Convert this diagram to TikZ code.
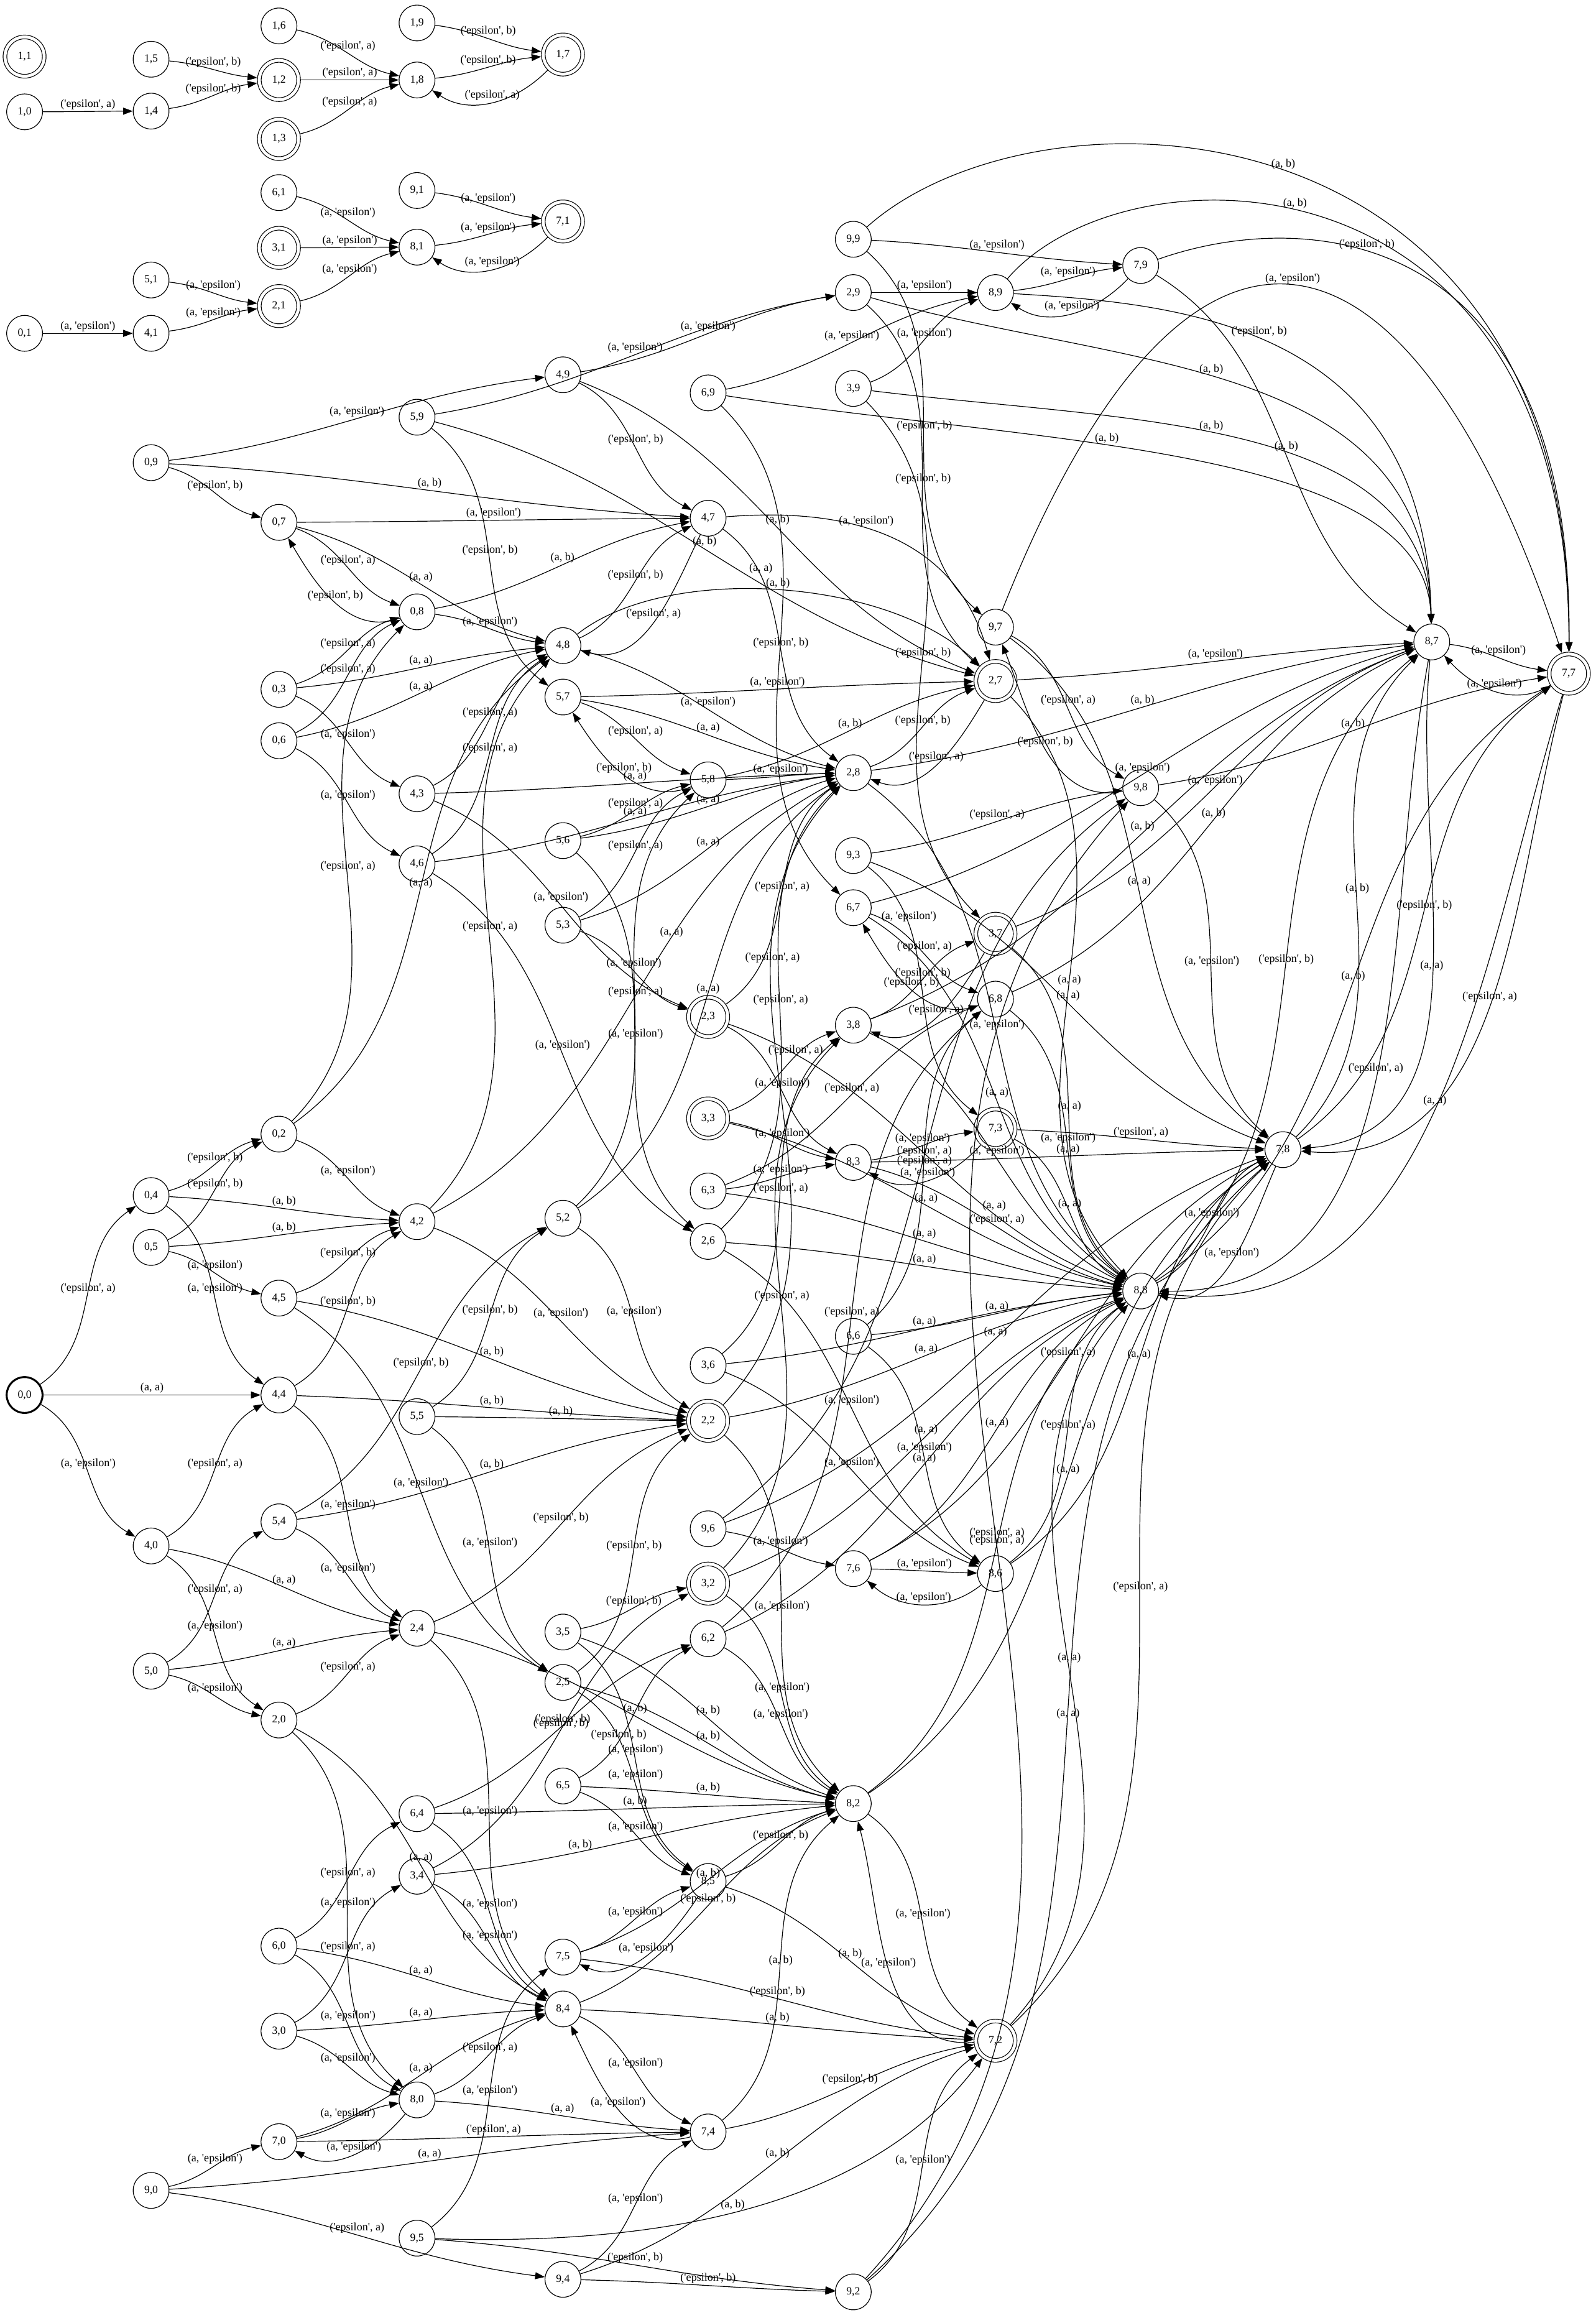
\documentclass[tikz,border=0pt]{standalone}
\usepackage{fontspec}
\newfontfamily\lfont{Liberation Serif}
\usetikzlibrary{arrows.meta}
\tikzset{
  nst/.style={circle, draw, line width=0.5pt, minimum size=24.2pt, inner sep=0pt, font=\lfont\fontsize{7.4}{8}\selectfont},
  nac/.style={nst, double, double distance=2pt, minimum size=26.5pt, outer sep=1.5pt},
  nbo/.style={nst, line width=1.3pt, outer sep=0.65pt},
  earrow/.style={line width=0.5pt, -{Triangle[length=6.5pt,width=4.7pt]}},
  elab/.style={font=\lfont\fontsize{7.6}{8}\selectfont, inner sep=1pt},
}
% per-edge routing: src tgt c1x c1y c2x c2y labelpos labelanchor
\newcommand\ov[8]{%
  \expandafter\def\csname ova@#1@#2\endcsname{#3}%
  \expandafter\def\csname ovb@#1@#2\endcsname{#4}%
  \expandafter\def\csname ovc@#1@#2\endcsname{#5}%
  \expandafter\def\csname ovd@#1@#2\endcsname{#6}%
  \expandafter\def\csname ovp@#1@#2\endcsname{#7}%
  \expandafter\def\csname ovq@#1@#2\endcsname{#8}}
% label position only: src tgt pos
\newcommand\lov[3]{\expandafter\def\csname lop@#1@#2\endcsname{#3}}
\ov{99}{77}{700}{50}{1062}{60}{0.5}{south}
\ov{89}{77}{760}{95}{1060}{95}{0.45}{south}
\ov{79}{77}{880}{140}{1062}{150}{0.4}{south}
\ov{97}{77}{800}{100}{950}{130}{0.5}{south}
\ov{29}{87}{760}{250}{962}{240}{0.45}{south}
\ov{39}{87}{760}{285}{962}{280}{0.45}{south}
\ov{69}{87}{700}{300}{962}{300}{0.4}{south}
\ov{89}{87}{800}{205}{962}{220}{0.45}{south}
\ov{95}{72}{420}{1515}{580}{1500}{0.5}{south}
\ov{48}{27}{450}{380}{600}{390}{0.5}{south}
\ov{47}{27}{600}{340}{650}{380}{0.35}{south}
\lov{42}{28}{0.62}
\lov{65}{62}{0.3}
\lov{93}{73}{0.25}
\lov{23}{88}{0.7}
\lov{33}{38}{0.65}
\lov{47}{28}{0.22}
\lov{22}{28}{0.7}
\lov{34}{82}{0.35}
\newcommand\addedge[3]{%
  \ifcsname lop@#1@#2\endcsname
    \edef\eLp{\csname lop@#1@#2\endcsname}%
  \else
    \def\eLp{0.5}%
  \fi
  \ifcsname ova@#1@#2\endcsname
    \edef\eAx{\csname ova@#1@#2\endcsname}\edef\eAy{\csname ovb@#1@#2\endcsname}%
    \edef\eBx{\csname ovc@#1@#2\endcsname}\edef\eBy{\csname ovd@#1@#2\endcsname}%
    \edef\eLp{\csname ovp@#1@#2\endcsname}\edef\eLa{\csname ovq@#1@#2\endcsname}%
    \draw[earrow] (n#1) .. controls (\eAx,\eAy) and (\eBx,\eBy) .. node[elab,pos=\eLp,anchor=\eLa]{#3} (n#2);
  \else
  \pgfmathsetmacro\eDx{\csname px#2\endcsname-\csname px#1\endcsname}%
  \pgfmathsetmacro\eDy{\csname py#1\endcsname-\csname py#2\endcsname}%
  \pgfmathsetmacro\eTh{atan2(\eDy,\eDx)}%
  \ifdim\eDx pt>0pt
    \pgfmathsetmacro\eAo{0.6*\eTh}%
    \pgfmathsetmacro\eAi{180+0.6*\eTh}%
    \draw[earrow] (n#1) to[out=\eAo,in=\eAi] node[elab,pos=\eLp,anchor=south]{#3} (n#2);
  \else
    \pgfmathsetmacro\ePh{\eTh>0 ? \eTh-180 : \eTh+180}%
    \pgfmathsetmacro\eAo{220+0.6*\ePh}%
    \pgfmathsetmacro\eAi{0.6*\ePh-40}%
    \draw[earrow] (n#1) to[out=\eAo,in=\eAi] node[elab,pos=\eLp,anchor=south]{#3} (n#2);
  \fi
  \fi}
\begin{document}
\begin{tikzpicture}[x=1pt,y=-1pt]
\fill[white] (0,0) rectangle (1077,1568);
\useasboundingbox (0,0) rectangle (1077,1568);
% normal states
\foreach \i/\j/\x/\y in {
 1/0/16.6/75.5, 0/1/16.6/225,
 1/5/102/40, 1/4/102/75, 5/1/102/189, 4/1/102/225, 0/9/102/312.3, 0/4/102/807,
 0/5/102/842, 4/0/102/1043.5, 5/0/102/1128, 9/0/102/1478.5,
 1/6/188.3/17.5, 6/1/188.3/130, 0/7/188.3/352.6, 0/3/188.3/465.3, 0/6/188.3/500,
 0/2/188.3/765.5, 4/5/188.3/876.2, 4/4/188.3/941.6, 5/4/188.3/1027.2, 2/0/188.3/1161,
 6/0/188.3/1313.6, 3/0/188.3/1371, 7/0/188.3/1445.6,
 1/9/281.5/15.5, 1/8/281.5/54, 9/1/281.5/128.6, 8/1/281.5/166.8, 5/9/281.5/281.6,
 0/8/281.5/413, 4/3/281.5/535.8, 4/6/281.5/583.1, 4/2/281.5/824.6, 5/5/281.5/956.2,
 2/4/281.5/1099, 6/4/281.5/1224.2, 3/4/281.5/1266.4, 8/0/281.5/1417.4, 9/5/281.5/1510.7,
 4/9/380/253, 4/8/380/435.8, 5/7/380/470.5, 5/6/380/567.4, 5/3/380/624.5, 5/2/380/822.3,
 3/5/380/1101.6, 2/5/380/1135.6, 6/5/380/1205.5, 7/5/380/1321, 8/4/380/1356, 9/4/380/1538.5,
 6/9/478/265.2, 4/7/478/349.8, 5/8/478/526.4, 6/3/478/803.9, 2/6/478/837.9, 3/6/478/921.7,
 9/6/478/1031.9, 6/2/478/1106.1, 8/5/478/1270, 7/4/478/1439,
 9/9/576/161.5, 2/9/576/197.5, 3/9/576/262.2, 2/8/576/521.6, 9/3/576/577.5, 6/7/576/612.7,
 3/8/576/692, 8/3/576/784.6, 6/6/576/902, 7/6/576/1058.8, 8/2/576/1217.4, 9/2/576/1547,
 8/9/672/197.5, 9/7/672/423.3, 6/8/672/674.4, 8/6/672/1062.1,
 7/9/770/179.2, 9/8/770/531.7, 8/8/770/871.4,
 7/8/866/776, 8/7/966.5/433.3}{
  \node[nst] (n\i\j) at (\x,\y) {\i,\j};
  \expandafter\xdef\csname px\i\j\endcsname{\x}%
  \expandafter\xdef\csname py\i\j\endcsname{\y}%
}
% accepting states
\foreach \i/\j/\x/\y in {
 1/1/16.6/38.2, 1/2/188.3/54, 1/3/188.3/93.8, 3/1/188.3/167.3, 2/1/188.3/206.6,
 1/7/380/36.8, 7/1/380/149.5, 2/3/478/686.4, 3/3/478/754.9, 2/2/478/959, 3/2/478/1068.9,
 2/7/672/459.7, 3/7/672/630.3, 7/3/672/761.9, 7/2/672/1377.4, 7/7/1059/454.7}{
  \node[nac] (n\i\j) at (\x,\y) {\i,\j};
  \expandafter\xdef\csname px\i\j\endcsname{\x}%
  \expandafter\xdef\csname py\i\j\endcsname{\y}%
}
% initial state
\node[nbo] (n00) at (16.6,941.6) {0,0};
\expandafter\xdef\csname px00\endcsname{16.6}%
\expandafter\xdef\csname py00\endcsname{941.6}%
% product transitions
\foreach \i/\ti in {0/4,2/8,3/8,4/2,5/2,6/8,7/8,8/7,9/7}{
  \foreach \j/\tj/\lt in {0/4/a,2/8/a,3/8/a,4/2/b,5/2/b,6/8/a,7/8/a,8/7/b,9/7/b}{
    \addedge{\i\j}{\ti\j}{(a, 'epsilon')}
    \addedge{\i\j}{\i\tj}{('epsilon', \lt)}
    \addedge{\i\j}{\ti\tj}{(a, \lt)}
  }
}
\foreach \j/\tj/\lt in {0/4/a,2/8/a,3/8/a,4/2/b,5/2/b,6/8/a,7/8/a,8/7/b,9/7/b}{
  \addedge{1\j}{1\tj}{('epsilon', \lt)}
}
\foreach \i/\ti in {0/4,2/8,3/8,4/2,5/2,6/8,7/8,8/7,9/7}{
  \addedge{\i1}{\ti1}{(a, 'epsilon')}
}
\end{tikzpicture}
\end{document}
